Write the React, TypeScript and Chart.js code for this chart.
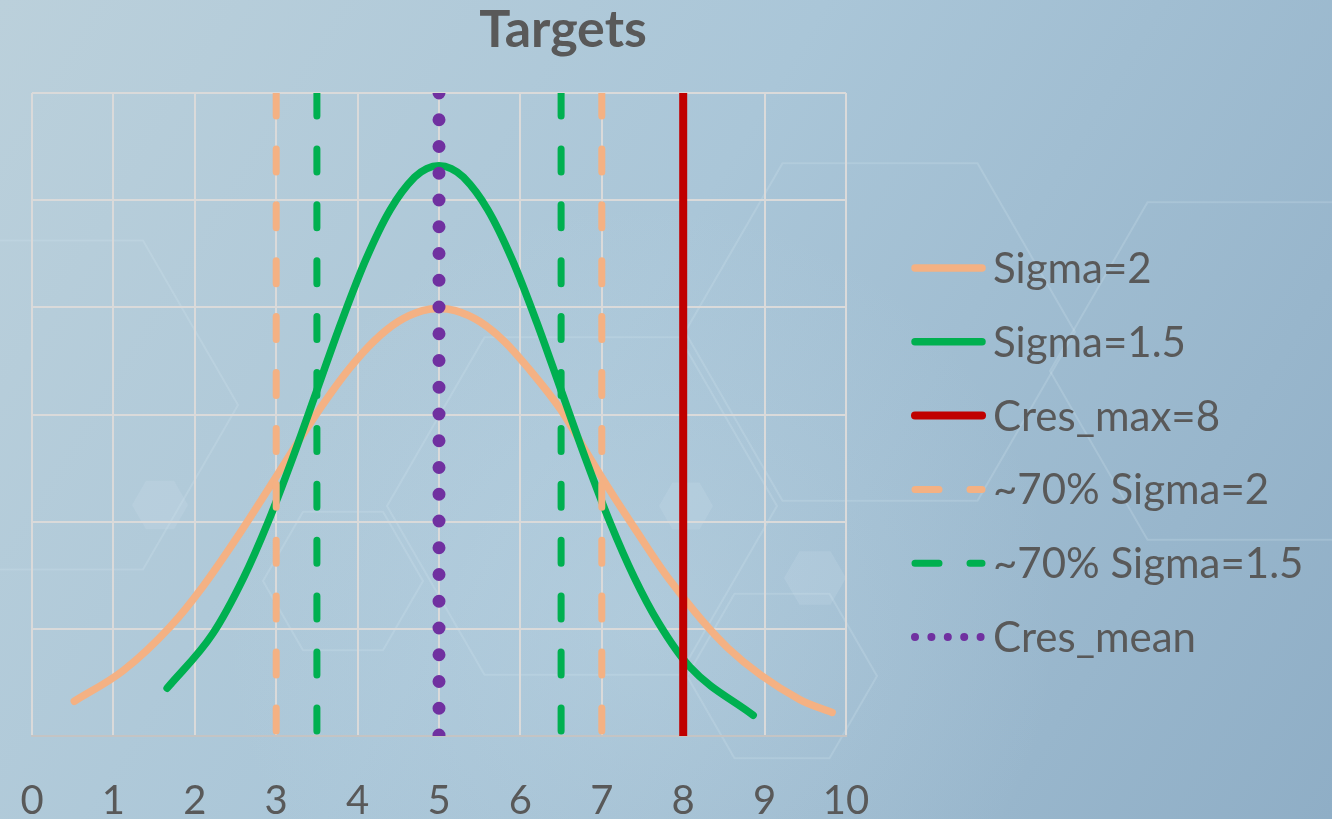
import { useEffect, useRef } from "react";
import { Chart, registerables } from "chart.js";

Chart.register(...registerables);

// Density curves (x, probability density)
const sigma2X = [0.52, 1.12, 1.7, 2.1, 2.56, 2.96, 3.3, 3.6, 3.9, 4.2, 4.5, 4.8, 5.0, 5.2, 5.5, 5.8, 6.1, 6.5, 6.8, 7.06, 7.4, 7.84, 8.55, 9.43, 9.83];
const sigma2Y = [0.0162, 0.0305, 0.0511, 0.0698, 0.095, 0.1186, 0.139, 0.1561, 0.1715, 0.1842, 0.1934, 0.1985, 0.1995, 0.1985, 0.1934, 0.1842, 0.1715, 0.152, 0.1331, 0.117, 0.0971, 0.0725, 0.041, 0.017, 0.011];

const sigma15X = [1.66, 2.22, 2.6, 2.9, 3.2, 3.5, 3.8, 4.1, 4.4, 4.7, 4.85, 5.0, 5.15, 5.3, 5.6, 5.9, 6.2, 6.5, 6.8, 7.1, 7.4, 7.7, 8.08, 8.86];
const sigma15Y = [0.0223, 0.0477, 0.0739, 0.0998, 0.1295, 0.1613, 0.1931, 0.2222, 0.2455, 0.2607, 0.2647, 0.266, 0.2647, 0.2607, 0.2455, 0.2222, 0.1931, 0.1613, 0.1295, 0.0998, 0.0739, 0.0526, 0.0323, 0.0097];

// Vertical markers
const cresMax = 8;
const band70Sigma2 = [3, 7];
const band70Sigma15 = [3.5, 6.5];
const cresMean = 5;

// Axis ranges
const xMin = 0;
const xMax = 10;
const xStep = 1;
const yMin = 0;
const yMax = 0.3;
const yStep = 0.05;

const labels = ["Sigma=2", "Sigma=1.5", "Cres_max=8", "~70% Sigma=2", "~70% Sigma=1.5", "Cres_mean"];
const chartTitle = "Targets";

const ORANGE = "#f4b183";
const GREEN = "#00b050";
const RED = "#c00000";
const PURPLE = "#7030a0";
const TEXT = "#595959";
const GRID = "#dadada";
const FONT = "Lato, 'Open Sans', sans-serif";

const zip = (xs: number[], ys: number[]) => xs.map((x, i) => ({ x, y: ys[i] }));
const vline = (xs: number[]) => {
  const pts: { x: number; y: number | null }[] = [];
  xs.forEach((x, i) => {
    if (i > 0) pts.push({ x, y: null });
    pts.push({ x, y: yMax }, { x, y: yMin });
  });
  return pts;
};

// Decorative hexagon backdrop
const hexOutlines: [number, number, number][] = [
  [582, 506, 195],
  [880, 332, 195],
  [1245, 371, 195],
  [782, 676, 95],
  [343, 581, 80],
  [48, 405, 190],
];
const hexFilled: [number, number, number][] = [
  [686, 506, 27],
  [815, 578, 31],
  [160, 505, 28],
];

function hexPath(ctx: CanvasRenderingContext2D, cx: number, cy: number, r: number) {
  ctx.beginPath();
  for (let k = 0; k < 6; k++) {
    const a = (Math.PI / 3) * k;
    const px = cx + r * Math.cos(a);
    const py = cy + r * Math.sin(a);
    if (k === 0) ctx.moveTo(px, py);
    else ctx.lineTo(px, py);
  }
  ctx.closePath();
}

const backdropPlugin = {
  id: "backdrop",
  beforeDraw(chart: any) {
    const { ctx, width, height } = chart;
    ctx.save();
    const g = ctx.createLinearGradient(0, 0, width, height);
    g.addColorStop(0, "#bbd0db");
    g.addColorStop(0.45, "#aac6d8");
    g.addColorStop(1, "#8faec6");
    ctx.fillStyle = g;
    ctx.fillRect(0, 0, width, height);
    const rg = ctx.createRadialGradient(640, 620, 20, 640, 620, 420);
    rg.addColorStop(0, "rgba(200,222,234,0.3)");
    rg.addColorStop(1, "rgba(200,222,234,0)");
    ctx.fillStyle = rg;
    ctx.fillRect(0, 0, width, height);
    ctx.lineWidth = 2;
    ctx.strokeStyle = "rgba(215,232,242,0.22)";
    hexOutlines.forEach(([cx, cy, r]) => {
      hexPath(ctx, cx, cy, r);
      ctx.stroke();
    });
    ctx.fillStyle = "rgba(210,228,240,0.18)";
    hexFilled.forEach(([cx, cy, r]) => {
      hexPath(ctx, cx, cy, r);
      ctx.fill();
    });
    ctx.restore();
  },
};

const titleLegendPlugin = {
  id: "titleLegend",
  afterDraw(chart: any) {
    const ctx: CanvasRenderingContext2D = chart.ctx;
    ctx.save();
    // title
    ctx.fillStyle = TEXT;
    ctx.font = `bold 52px ${FONT}`;
    ctx.textAlign = "center";
    ctx.textBaseline = "alphabetic";
    ctx.fillText(chartTitle, 563, 47);

    // legend
    const sx0 = 915;
    const sx1 = 982;
    const tx = 993;
    const y0 = 268;
    const dy = 73.8;
    const fontSize = 42;
    chart.data.datasets.forEach((ds: any, i: number) => {
      const y = y0 + i * dy;
      ctx.save();
      ctx.strokeStyle = ds.borderColor;
      ctx.lineWidth = ds.legendWidth;
      ctx.lineCap = "round";
      ctx.setLineDash(ds.legendDash || []);
      ctx.beginPath();
      ctx.moveTo(sx0, y);
      ctx.lineTo(sx1, y);
      ctx.stroke();
      ctx.restore();
      ctx.fillStyle = TEXT;
      ctx.font = `${fontSize}px ${FONT}`;
      ctx.textAlign = "left";
      ctx.textBaseline = "alphabetic";
      ctx.fillText(ds.label, tx, y + 15);
    });
    ctx.restore();
  },
};

export default function App() {
  const canvasRef = useRef<HTMLCanvasElement | null>(null);

  useEffect(() => {
    if (!canvasRef.current) return;
    const chart = new Chart(canvasRef.current, {
      type: "scatter",
      data: {
        datasets: [
          {
            label: labels[0],
            data: zip(sigma2X, sigma2Y),
            showLine: true,
            borderColor: ORANGE,
            borderWidth: 7.5,
            borderCapStyle: "round",
            borderJoinStyle: "round",
            cubicInterpolationMode: "monotone",
            pointRadius: 0,
            order: 5,
            legendWidth: 7.5,
          } as any,
          {
            label: labels[1],
            data: zip(sigma15X, sigma15Y),
            showLine: true,
            borderColor: GREEN,
            borderWidth: 7.5,
            borderCapStyle: "round",
            borderJoinStyle: "round",
            cubicInterpolationMode: "monotone",
            pointRadius: 0,
            order: 4,
            legendWidth: 7.5,
          } as any,
          {
            label: labels[2],
            data: vline([cresMax]),
            showLine: true,
            borderColor: RED,
            borderWidth: 8,
            pointRadius: 0,
            order: 1,
            legendWidth: 8,
          } as any,
          {
            label: labels[3],
            data: vline(band70Sigma2),
            showLine: true,
            borderColor: ORANGE,
            borderWidth: 7,
            borderDash: [23, 32.9],
            borderCapStyle: "round",
            pointRadius: 0,
            order: 3,
            legendWidth: 7,
            legendDash: [24, 31],
          } as any,
          {
            label: labels[4],
            data: vline(band70Sigma15),
            showLine: true,
            borderColor: GREEN,
            borderWidth: 7,
            borderDash: [23, 32.9],
            borderCapStyle: "round",
            pointRadius: 0,
            order: 2,
            legendWidth: 7,
            legendDash: [24, 31],
          } as any,
          {
            label: labels[5],
            data: vline([cresMean]),
            showLine: true,
            borderColor: PURPLE,
            borderWidth: 13,
            borderDash: [0, 26.75],
            borderCapStyle: "round",
            pointRadius: 0,
            order: 0,
            legendWidth: 8,
            legendDash: [0, 16.4],
          } as any,
        ],
      },
      options: {
        animation: false,
        responsive: false,
        devicePixelRatio: 1,
        events: [],
        layout: { padding: { left: 32, right: 486, top: 93, bottom: 0 } },
        plugins: {
          legend: { display: false },
          title: { display: false },
          tooltip: { enabled: false },
        },
        scales: {
          x: {
            type: "linear",
            min: xMin,
            max: xMax,
            afterFit: (axis: any) => {
              axis.height = 83;
              axis.paddingLeft = 0;
              axis.paddingRight = 0;
            },
            ticks: {
              stepSize: xStep,
              color: TEXT,
              font: { family: FONT, size: 40, lineHeight: 1 },
              padding: 45,
              maxRotation: 0,
            },
            grid: { color: GRID, lineWidth: 2, drawTicks: false },
            border: { display: true, color: "#c4c4c4", width: 2 },
          },
          y: {
            type: "linear",
            min: yMin,
            max: yMax,
            afterFit: (axis: any) => {
              axis.width = 0;
              axis.paddingTop = 0;
              axis.paddingBottom = 0;
            },
            ticks: { stepSize: yStep, display: false },
            grid: { color: GRID, lineWidth: 2, drawTicks: false },
            border: { display: false },
          },
        },
      } as any,
      plugins: [backdropPlugin, titleLegendPlugin],
    });
    return () => chart.destroy();
  }, []);

  return (
    <div style={{ position: "fixed", left: 0, top: 0, width: 1332, height: 819, overflow: "hidden" }}>
      <canvas ref={canvasRef} width={1332} height={819} style={{ display: "block" }} />
    </div>
  );
}
